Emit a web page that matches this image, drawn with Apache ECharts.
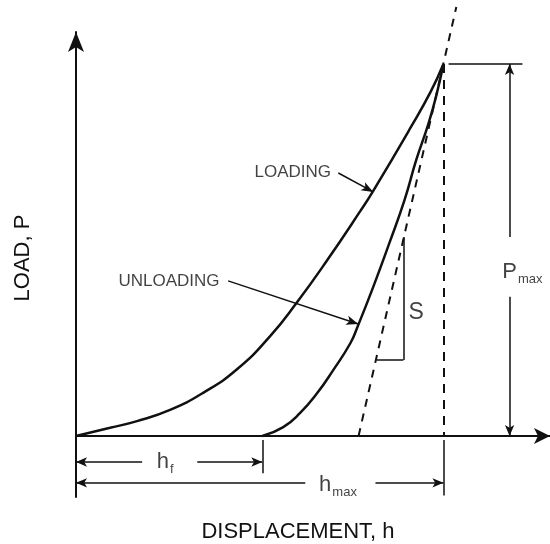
<!DOCTYPE html>
<html>
<head>
<meta charset="utf-8">
<script src="https://cdn.jsdelivr.net/npm/echarts@6/dist/echarts.min.js"></script>
<style>
  html, body { margin: 0; padding: 0; background: #fff; }
  #chart { width: 550px; height: 544px; }
</style>
</head>
<body>
<div id="chart"></div>
<script>
// load-displacement curve, h and P both normalised to hmax / Pmax
const loadH = [0, 0.093, 0.166, 0.256, 0.346, 0.439, 0.529, 0.602, 0.684, 0.774, 0.809, 0.910, 0.965, 1];
const loadP = [0, 0.022, 0.040, 0.070, 0.116, 0.180, 0.269, 0.360, 0.473, 0.605, 0.659, 0.828, 0.925, 1];
const unloadH = [0.507, 0.564, 0.610, 0.657, 0.700, 0.747, 0.766, 0.809, 0.853, 0.894, 0.926, 0.959, 0.981, 1];
const unloadP = [0, 0.024, 0.062, 0.116, 0.177, 0.250, 0.293, 0.401, 0.519, 0.634, 0.742, 0.839, 0.917, 1];
// tangent to the top of the unloading curve (stiffness S)
const tangentH = [0.769, 1.035];
const tangentP = [0, 1.153];
const hf = 0.507;
const hmax = 1;
const pmax = 1;

const ink = '#111';
const font = 'Liberation Sans';

function zip(a, b) { return a.map((v, i) => [v, b[i]]); }

// plain segment / arrowed segment for markLine
function seg(a, b, w, arrowEnd, size) {
  return [
    { coord: a, symbol: 'none', lineStyle: { color: ink, width: w, type: 'solid' } },
    { coord: b, symbol: arrowEnd ? 'arrow' : 'none', symbolSize: size || [7, 11] }
  ];
}

const chart = echarts.init(document.getElementById('chart'));

const option = {
  animation: false,
  backgroundColor: '#fff',
  // y range goes a bit below zero so the dimension lines under the axis fit
  grid: { left: 76, right: 0, top: 32, bottom: 47, outerBoundsMode: 'none', containLabel: false },
  xAxis: {
    type: 'value', min: 0, max: 1.29,
    axisLine: { show: true, onZero: true, symbol: ['none', 'arrow'], symbolSize: [12, 16], lineStyle: { color: ink, width: 2 } },
    axisTick: { show: false }, axisLabel: { show: false }, splitLine: { show: false },
    name: 'DISPLACEMENT, h', nameLocation: 'middle', nameGap: 24,
    nameTextStyle: { fontFamily: font, fontSize: 22, color: ink, padding: [0, 30, 0, 0] }
  },
  yAxis: {
    type: 'value', min: -0.164, max: 1.086,
    axisLine: { show: true, symbol: ['none', 'arrow'], symbolSize: [12, 20], lineStyle: { color: ink, width: 2 } },
    axisTick: { show: false }, axisLabel: { show: false }, splitLine: { show: false },
    name: 'LOAD, P', nameLocation: 'middle', nameGap: 42, nameRotate: 90,
    nameTextStyle: { fontFamily: font, fontSize: 22, color: ink, padding: [0, 0, 0, 13] }
  },
  series: [
    {
      name: 'loading', type: 'line', data: zip(loadH, loadP),
      smooth: 0.5, symbol: 'none',
      lineStyle: { color: ink, width: 2.5 }
    },
    {
      name: 'unloading', type: 'line', data: zip(unloadH, unloadP),
      smooth: 0.5, symbol: 'none',
      lineStyle: { color: ink, width: 2.5 }
    },
    {
      name: 'tangent', type: 'line', data: zip(tangentH, tangentP), clip: false,
      symbol: 'none', lineStyle: { color: ink, width: 2, type: [8, 7] }
    },
    {
      name: 'guides', type: 'line', data: [], clip: false,
      markLine: {
        silent: true, animation: false, label: { show: false },
        data: [
          // hmax dashed drop line
          [{ coord: [hmax, pmax], symbol: 'none', lineStyle: { color: ink, width: 2, type: [9, 7] } },
           { coord: [hmax, 0], symbol: 'none' }],
          // S triangle
          seg([0.891, 0.535], [0.891, 0.204], 1.5),
          seg([0.891, 0.204], [0.818, 0.204], 1.5),
          // Pmax level and dimension
          seg([1.014, pmax], [1.215, pmax], 1.5),
          seg([1.180, 0.535], [1.180, pmax], 1.5, true),
          seg([1.180, 0.374], [1.180, 0], 1.5, true),
          // extension lines below the axis
          seg([hf, -0.011], [hf, -0.10], 1.5),
          seg([hmax, -0.011], [hmax, -0.16], 1.5),
          // hf dimension
          seg([0.180, -0.070], [0, -0.070], 1.5, true),
          seg([0.330, -0.070], [hf, -0.070], 1.5, true),
          // hmax dimension
          seg([0.624, -0.126], [0, -0.126], 1.5, true),
          seg([0.815, -0.126], [hmax, -0.126], 1.5, true),
          // leaders
          seg([0.714, 0.707], [0.809, 0.656], 1.5, true, [7, 12]),
          seg([0.414, 0.417], [0.768, 0.301], 1.5, true, [7, 12])
        ]
      }
    },
    {
      name: 'labels', type: 'scatter', clip: false, symbolSize: 0, silent: true,
      label: {
        show: true, position: 'inside', color: ink, fontFamily: font,
        rich: {
          big: { fontFamily: font, fontSize: 22, color: ink },
          sub: { fontFamily: font, fontSize: 13, color: ink, padding: [14, 0, 0, 1] }
        }
      },
      data: [
        { value: [0.590, 0.710], label: { formatter: 'LOADING', fontSize: 17 } },
        { value: [0.253, 0.417], label: { formatter: 'UNLOADING', fontSize: 17 } },
        { value: [0.926, 0.331], label: { formatter: 'S', fontSize: 23 } },
        { value: [1.215, 0.440], label: { formatter: '{big|P}{sub|max}' } },
        { value: [0.243, -0.070], label: { formatter: '{big|h}{sub|f}' } },
        { value: [0.713, -0.132], label: { formatter: '{big|h}{sub|max}' } }
      ]
    }
  ]
};

chart.setOption(option);
</script>
</body>
</html>
